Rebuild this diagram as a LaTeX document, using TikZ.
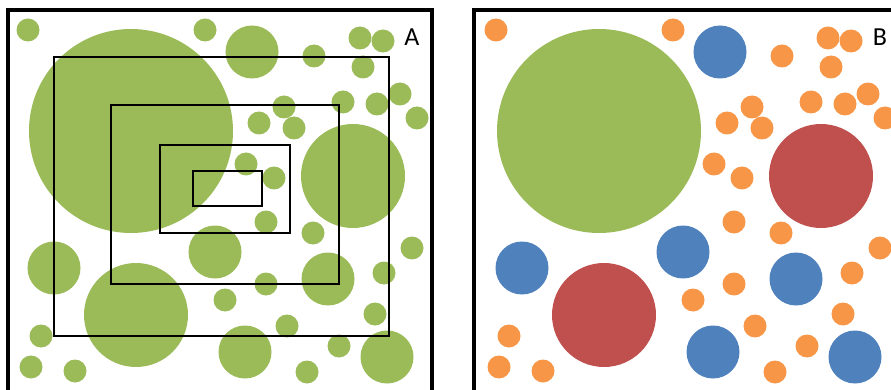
\documentclass[tikz,border=0pt]{standalone}
\usepackage{fontspec}
\setsansfont{Carlito}
\definecolor{leaf}{HTML}{9BBB59}
\definecolor{sky}{HTML}{4F81BD}
\definecolor{brick}{HTML}{C0504D}
\definecolor{tang}{HTML}{F79646}

% spots, in pixel coordinates of panel A
\def\hugespots{131/131}
\def\largespots{353/176,136/315}
\def\midspots{252/52,215/252,54/268,328/279,245/352,387/357}
\def\tinyspots{28/30,205/30,314/56,360/38,383/41,363/67,400/94,377/104,343/102,
  417/118,284/107,294/128,259/123,246/164,274/178,266/222,313/233,412/248,
  384/273,266/284,225/300,375/314,287/326,41/336,339/346,31/367,75/371,307/372}

\tikzset{
  panel/.style={draw=black, line width=3.3pt},
  zone/.style={draw=black, line width=2.8pt},
  tag/.style={inner sep=0pt, anchor=center, font=\sffamily\fontsize{26}{30}\selectfont},
}

\begin{document}
\begin{tikzpicture}[x=1pt, y=-1pt]
  \useasboundingbox (0,0) rectangle (891,390);
  \clip (0,0) rectangle (891,390);

  % panel A: all one kind
  \foreach \x/\y in \hugespots {\fill[leaf] (\x,\y) circle (102pt);}
  \foreach \x/\y in \largespots {\fill[leaf] (\x,\y) circle (52pt);}
  \foreach \x/\y in \midspots {\fill[leaf] (\x,\y) circle (26.5pt);}
  \foreach \x/\y in \tinyspots {\fill[leaf] (\x,\y) circle (11.5pt);}
  \foreach \l/\t/\r/\b in {54/57/389/336,111/105/339/284,160/145/290/233,193/171/262/206}
    {\draw[zone] (\l,\t) rectangle (\r,\b);}
  \draw[panel] (8,10) rectangle (432,400);
  \node[tag] (labA) at (412,37) {A};

  % panel B: same spots, sorted by size
  \begin{scope}[xshift=468pt]
    \foreach \x/\y in \hugespots {\fill[leaf] (\x,\y) circle (102pt);}
    \foreach \x/\y in \largespots {\fill[brick] (\x,\y) circle (52pt);}
    \foreach \x/\y in \midspots {\fill[sky] (\x,\y) circle (26.5pt);}
    \foreach \x/\y in \tinyspots {\fill[tang] (\x,\y) circle (11.5pt);}
  \end{scope}
  \draw[panel] (474,10) rectangle (920,400);
  \node[tag] (labB) at (880,37) {B};
\end{tikzpicture}
\end{document}
